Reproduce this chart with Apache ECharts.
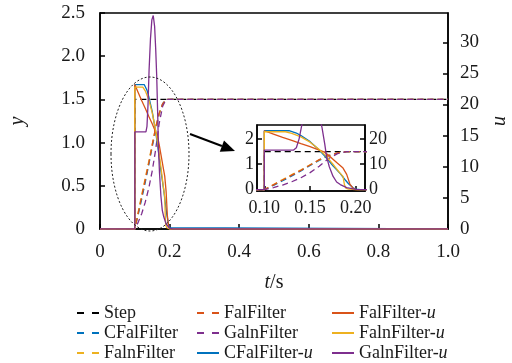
<!DOCTYPE html>
<html>
<head>
<meta charset="utf-8">
<script src="https://cdn.jsdelivr.net/npm/echarts@6/dist/echarts.min.js"></script>
<style>
  html, body { margin: 0; padding: 0; background: #fff; }
  #chart { width: 512px; height: 363px; }
</style>
</head>
<body>
<div id="chart"></div>
<script>
// 输出 y (左轴)
var stepY = [[0, 0], [0.1, 0], [0.1, 1.5], [1, 1.5]];
var cfalY = [[0, 0], [0.1, 0], [0.11, 0.17], [0.12, 0.35], [0.13, 0.54], [0.14, 0.74], [0.15, 0.95], [0.16, 1.15], [0.17, 1.33], [0.18, 1.45], [0.19, 1.5], [1, 1.5]];
var falnY = [[0, 0], [0.1, 0], [0.11, 0.2], [0.12, 0.4], [0.13, 0.59], [0.14, 0.78], [0.15, 0.98], [0.16, 1.17], [0.17, 1.33], [0.18, 1.44], [0.19, 1.5], [1, 1.5]];
var falY = [[0, 0], [0.1, 0], [0.11, 0.19], [0.12, 0.38], [0.13, 0.57], [0.14, 0.76], [0.15, 0.97], [0.16, 1.18], [0.17, 1.34], [0.18, 1.45], [0.19, 1.5], [1, 1.5]];
var galnY = [[0, 0], [0.1, 0], [0.11, 0.08], [0.12, 0.18], [0.13, 0.31], [0.14, 0.47], [0.15, 0.67], [0.16, 0.92], [0.17, 1.22], [0.18, 1.42], [0.19, 1.5], [1, 1.5]];

// 控制量 u (右轴)
var cfalU = [[0, 0], [0.1, 0], [0.1, 23.2], [0.127, 23.2], [0.135, 22.3], [0.14, 21.3], [0.15, 18.9], [0.16, 15.6], [0.168, 12.4], [0.175, 9.4], [0.183, 6.3], [0.188, 4], [0.192, 2.3], [0.197, 0.7], [0.2, 0.2], [0.205, 0], [1, 0]];
var falU = [[0, 0], [0.1, 0], [0.1, 23.2], [0.11, 21.9], [0.12, 20.6], [0.13, 19.4], [0.14, 18.1], [0.15, 16.9], [0.16, 15.6], [0.165, 14.9], [0.17, 13.6], [0.175, 12], [0.18, 10.4], [0.186, 8.5], [0.19, 6], [0.1935, 2.2], [0.197, 0.5], [0.2, 0], [1, 0]];
var falnU = [[0, 0], [0.1, 0], [0.1, 22.8], [0.123, 22.8], [0.13, 22.2], [0.14, 20.8], [0.15, 18.7], [0.16, 15.8], [0.168, 13], [0.175, 10], [0.182, 6.8], [0.186, 5.2], [0.1875, 2], [0.189, 0.6], [0.192, 0.2], [0.2, 0], [1, 0]];
var galnU = [[0, 0], [0.1, 0], [0.1, 15.6], [0.132, 15.6], [0.135, 16.5], [0.138, 20], [0.141, 25.5], [0.145, 30.5], [0.149, 33.6], [0.153, 34.3], [0.157, 32.5], [0.16, 29], [0.163, 24.5], [0.166, 18], [0.168, 13], [0.171, 9], [0.175, 5.3], [0.179, 3], [0.183, 2], [0.19, 0.8], [0.2, 0.1], [0.21, 0], [1, 0]];

var uTicks = [0, 5, 10, 15, 20, 25, 30];
var insetXTicks = [0.10, 0.15, 0.20];
var insetYTicks = [0, 1, 2];
var insetUTicks = [0, 10, 20];

var FONT = 'Liberation Serif';
var TXT = '#1a1a1a';

var lines = [
  { name: 'Step', data: stepY, color: '#000000', dash: true, u: false },
  { name: 'CFalFilter', data: cfalY, color: '#0072BD', dash: true, u: false },
  { name: 'FalnFilter', data: falnY, color: '#EDB120', dash: true, u: false },
  { name: 'FalFilter', data: falY, color: '#D95319', dash: true, u: false },
  { name: 'GalnFilter', data: galnY, color: '#7E2F8E', dash: true, u: false },
  { name: 'CFalFilter-u', data: cfalU, color: '#0072BD', dash: false, u: true },
  { name: 'FalFilter-u', data: falU, color: '#D95319', dash: false, u: true },
  { name: 'FalnFilter-u', data: falnU, color: '#EDB120', dash: false, u: true },
  { name: 'GalnFilter-u', data: galnU, color: '#7E2F8E', dash: false, u: true }
];

var series = [];
[false, true].forEach(function (inset) {
  lines.forEach(function (l) {
    series.push({
      name: l.name,
      type: 'line',
      data: l.data,
      symbol: 'none',
      silent: true,
      clip: true,
      xAxisIndex: inset ? 1 : 0,
      yAxisIndex: (inset ? 2 : 0) + (l.u ? 1 : 0),
      itemStyle: { color: l.color },
      lineStyle: { color: l.color, width: 1.3, type: l.dash ? [6, 4] : 'solid' }
    });
  });
});

function axisBase() {
  return {
    axisLine: { show: true, onZero: false, lineStyle: { color: '#000', width: 1.5 } },
    axisTick: { show: true, inside: true, length: 5, lineStyle: { color: '#000', width: 1.5 } },
    splitLine: { show: false },
    axisLabel: { color: TXT, fontFamily: FONT, fontSize: 19, margin: 8 }
  };
}
function mk(extra) {
  var a = axisBase();
  for (var k in extra) {
    if (typeof extra[k] === 'object' && a[k] && !Array.isArray(extra[k])) {
      for (var j in extra[k]) a[k][j] = extra[k][j];
    } else a[k] = extra[k];
  }
  return a;
}
function dec1(v) { return v === 0 ? '0' : v.toFixed(1); }

function legendCol(left, names) {
  return {
    orient: 'vertical',
    left: left,
    top: 303,
    height: 80,
    padding: 0,
    itemWidth: 22,
    itemHeight: 12,
    itemGap: 0,
    selectedMode: false,
    itemStyle: { color: 'rgba(0,0,0,0)', borderColor: 'rgba(0,0,0,0)', borderWidth: 0, opacity: 0 },
    data: names.map(function (n) {
      return /-u$/.test(n) ? { name: n } : { name: n, lineStyle: { type: [7, 8] } };
    }),
    formatter: function (n) { return n.replace(/-u$/, '-{i|u}'); },
    textStyle: {
      color: TXT, fontFamily: FONT, fontSize: 18, lineHeight: 20,
      rich: { i: { fontStyle: 'italic', fontFamily: FONT, fontSize: 18, color: TXT, lineHeight: 20 } }
    }
  };
}

// 箭头与椭圆标注
var arrowFrom = [190, 134], arrowTo = [235, 151], headLen = 14, headHalf = 6;
var dx = arrowTo[0] - arrowFrom[0], dy = arrowTo[1] - arrowFrom[1];
var len = Math.sqrt(dx * dx + dy * dy), ux = dx / len, uy = dy / len;
var base = [arrowTo[0] - ux * headLen, arrowTo[1] - uy * headLen];

var myChart = echarts.init(document.getElementById('chart'), null, { renderer: 'canvas' });
var option = {
  animation: false,
  backgroundColor: '#fff',
  grid: [
    { left: 100, right: 64, top: 13, bottom: 134, outerBoundsMode: 'none', show: true, borderColor: '#000', borderWidth: 1.5, backgroundColor: 'transparent' },
    { left: 257, right: 147, top: 125, bottom: 172, outerBoundsMode: 'none', show: true, borderColor: '#000', borderWidth: 1.5, backgroundColor: '#fff' }
  ],
  legend: [
    legendCol(76, ['Step', 'CFalFilter', 'FalnFilter']),
    legendCol(196, ['FalFilter', 'GalnFilter', 'CFalFilter-u']),
    legendCol(331, ['FalFilter-u', 'FalnFilter-u', 'GalnFilter-u'])
  ],
  xAxis: [
    mk({
      type: 'value', gridIndex: 0, min: 0, max: 1, interval: 0.2,
      axisLabel: { formatter: dec1, margin: 14 },
      name: '{i|t}/s', nameLocation: 'middle', nameGap: 44,
      nameTextStyle: { color: TXT, fontFamily: FONT, fontSize: 20, rich: { i: { fontStyle: 'italic', fontFamily: FONT, fontSize: 20, color: TXT } } }
    }),
    mk({
      type: 'value', gridIndex: 1, min: 0.092, max: 0.21,
      axisTick: { customValues: insetXTicks },
      axisLabel: { customValues: insetXTicks, formatter: function (v) { return v.toFixed(2); }, fontSize: 18, margin: 8 }
    })
  ],
  yAxis: [
    mk({
      type: 'value', gridIndex: 0, position: 'left', min: 0, max: 2.5, interval: 0.5,
      axisLabel: { formatter: dec1, margin: 15 },
      name: 'y', nameLocation: 'middle', nameGap: 72,
      nameTextStyle: { color: TXT, fontFamily: FONT, fontSize: 20, fontStyle: 'italic' }
    }),
    mk({
      type: 'value', gridIndex: 0, position: 'right', min: 0, max: 34.7,
      axisTick: { customValues: uTicks },
      axisLabel: { customValues: uTicks, margin: 12 },
      name: 'u', nameLocation: 'middle', nameGap: 39,
      nameTextStyle: { color: TXT, fontFamily: FONT, fontSize: 20, fontStyle: 'italic' }
    }),
    mk({
      type: 'value', gridIndex: 1, position: 'left', min: -0.054, max: 2.546,
      axisTick: { customValues: insetYTicks },
      axisLabel: { customValues: insetYTicks, fontSize: 18, margin: 3 }
    }),
    mk({
      type: 'value', gridIndex: 1, position: 'right', min: -0.54, max: 25.46,
      axisTick: { customValues: insetUTicks },
      axisLabel: { customValues: insetUTicks, fontSize: 18, margin: 4 }
    })
  ],
  graphic: [
    {
      type: 'ellipse', silent: true, z: 10,
      shape: { cx: 150, cy: 154, rx: 39, ry: 77 },
      style: { fill: 'none', stroke: '#222', lineWidth: 1, lineDash: [2, 2] }
    },
    {
      type: 'line', silent: true, z: 10,
      shape: { x1: arrowFrom[0], y1: arrowFrom[1], x2: base[0], y2: base[1] },
      style: { stroke: '#000', lineWidth: 2 }
    },
    {
      type: 'polygon', silent: true, z: 10,
      shape: { points: [arrowTo, [base[0] - uy * headHalf, base[1] + ux * headHalf], [base[0] + uy * headHalf, base[1] - ux * headHalf]] },
      style: { fill: '#000' }
    }
  ],
  series: series
};
myChart.setOption(option);
window.addEventListener('resize', function () {
  myChart.resize();
});
</script>
</body>
</html>
